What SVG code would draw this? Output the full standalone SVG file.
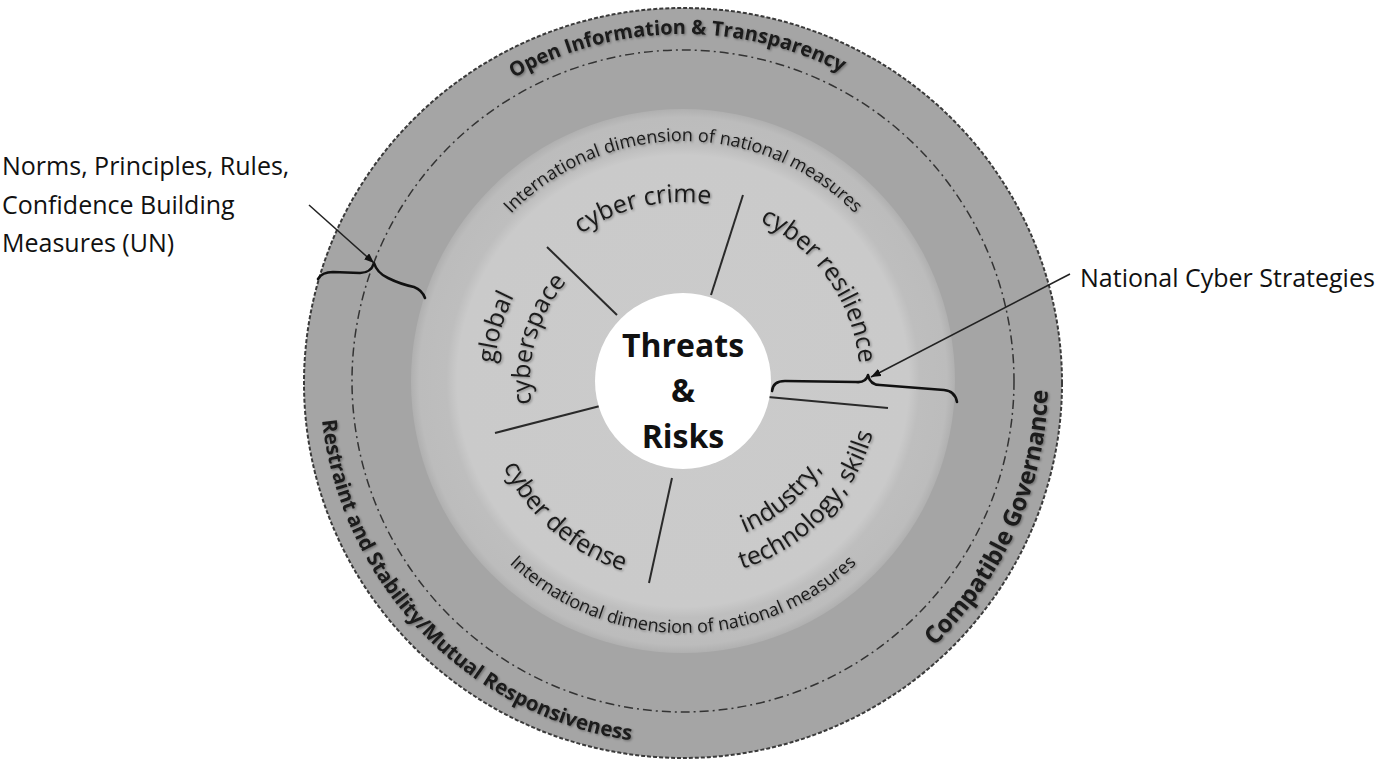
<svg xmlns="http://www.w3.org/2000/svg" width="1382" height="761" viewBox="0 0 1382 761">
<style>
  text { font-family: "Open Sans", "Liberation Sans", sans-serif; fill: #1a1a1a; }
  .b { font-weight: 700; }
  .ring { font-size: 20px; }
  .ring2 { font-size: 20.5px; }
  .gov { font-size: 24px; }
  .intl { font-size: 18px; }
  .sec { font-size: 25px; }
  .ext { font-size: 25px; fill: #111; }
  .core { font-size: 32px; font-weight: 700; fill: #111; }
  .sh { filter: url(#sh); }
  .div { stroke: #2a2a2a; stroke-width: 2; fill: none; }
  .brace { stroke: #111; stroke-width: 2.6; fill: none; stroke-linecap: round; stroke-linejoin: round; }
  .arrow { stroke: #222; stroke-width: 1.5; fill: none; marker-end: url(#ah); }
</style>
<defs>
  <radialGradient id="gInner" gradientUnits="userSpaceOnUse" cx="683" cy="381" r="272">
    <stop offset="0" stop-color="#cbcbcb"/>
    <stop offset="0.83" stop-color="#cacaca"/>
    <stop offset="0.87" stop-color="#bebebe"/>
    <stop offset="0.97" stop-color="#bcbcbc"/>
    <stop offset="1" stop-color="#b0b0b0"/>
  </radialGradient>
  <filter id="sh" x="-10%" y="-10%" width="120%" height="120%">
    <feDropShadow dx="1.2" dy="1.2" stdDeviation="1" flood-color="#000" flood-opacity="0.35"/>
  </filter>
  <marker id="ah" viewBox="0 0 10 8" refX="10" refY="4" markerWidth="10" markerHeight="8" markerUnits="userSpaceOnUse" orient="auto">
    <path d="M0,0 L10,4 L0,8 z" fill="#111"/>
  </marker>
  <path id="pOpen" d="M 340.27 326.72 A 347 347 0 0 1 1023.63 314.79"/>
  <path id="pIntlTop" d="M 446.65 339.32 A 240 240 0 0 1 919.35 339.32"/>
  <path id="pIntlBot" d="M 434.83 424.76 A 252 252 0 0 0 931.17 424.76"/>
  <path id="pRestraint" d="M 389.33 167.63 A 363 363 0 0 0 885.99 681.94"/>
  <path id="pGov" d="M 594.70 735.16 A 365 365 0 0 0 887.10 78.40"/>
  <path id="pCrime" d="M 504.25 390.37 A 179 179 0 0 1 847.77 311.06"/>
  <path id="pResil" d="M 608.20 220.58 A 177 177 0 0 1 808.16 506.16"/>
  <path id="pGlobal" d="M 600.15 550.87 A 189 189 0 0 1 702.76 193.04"/>
  <path id="pCyberspace" d="M 615.93 518.52 A 153 153 0 0 1 698.99 228.84"/>
  <path id="pDefense" d="M 512.42 278.51 A 199 199 0 0 0 808.23 535.65"/>
  <path id="pIndustry" d="M 577.58 506.63 A 164 164 0 0 0 825.03 299"/>
  <path id="pTech" d="M 572.84 544.32 A 197 197 0 0 0 842.38 265.21"/>
</defs>

<rect x="0" y="0" width="1382" height="761" fill="#ffffff"/>

<g id="outer-ring">
  <ellipse cx="683" cy="383" rx="379" ry="375" fill="#a5a5a5" stroke="#3a3a3a" stroke-width="2" stroke-dasharray="4 2"/>
  <circle cx="683" cy="381" r="331" fill="none" stroke="#333" stroke-width="1.5" stroke-dasharray="9 4 2 4"/>
  <text class="ring b sh"><textPath href="#pOpen" startOffset="50%" text-anchor="middle">Open Information &amp; Transparency</textPath></text>
  <text class="ring2 b sh"><textPath href="#pRestraint" startOffset="50%" text-anchor="middle">Restraint and Stability/Mutual Responsiveness</textPath></text>
  <text class="gov b sh"><textPath href="#pGov" startOffset="50%" text-anchor="middle">Compatible Governance</textPath></text>
</g>

<g id="international-ring">
  <circle cx="683" cy="381" r="272" fill="url(#gInner)"/>
  <text class="intl sh"><textPath href="#pIntlTop" startOffset="50%" text-anchor="middle">International dimension of national measures</textPath></text>
  <text class="intl sh"><textPath href="#pIntlBot" startOffset="50%" text-anchor="middle">International dimension of national measures</textPath></text>
</g>

<g id="sector-labels">
  <text class="sec sh"><textPath href="#pCrime" startOffset="50%" text-anchor="middle">cyber crime</textPath></text>
  <text class="sec sh"><textPath href="#pResil" startOffset="50%" text-anchor="middle">cyber resilience</textPath></text>
  <text class="sec sh"><textPath href="#pGlobal" startOffset="50%" text-anchor="middle">global</textPath></text>
  <text class="sec sh"><textPath href="#pCyberspace" startOffset="50%" text-anchor="middle">cyberspace</textPath></text>
  <text class="sec sh"><textPath href="#pDefense" startOffset="50%" text-anchor="middle">cyber defense</textPath></text>
  <text class="sec sh"><textPath href="#pIndustry" startOffset="50%" text-anchor="middle">industry,</textPath></text>
  <text class="sec sh"><textPath href="#pTech" startOffset="50%" text-anchor="middle">technology, skills</textPath></text>
</g>

<g id="connectors">
  <line class="div" x1="547" y1="247" x2="617" y2="315"/>
  <line class="div" x1="743" y1="195" x2="711" y2="295"/>
  <line class="div" x1="768" y1="397" x2="888" y2="408"/>
  <line class="div" x1="672" y1="478" x2="649" y2="583"/>
  <line class="div" x1="600" y1="406" x2="495" y2="433"/>
  <path class="brace" d="M 318 279 Q 322 272 333 272 L 360 273 Q 371 273 374 263 Q 377 273 388 278 Q 400 284 414 287 Q 422 290 425 298"/>
  <path class="brace" d="M 772 391 Q 773 381 785 381 L 856 382 Q 866 383 868 375 Q 870 385 880 385 L 944 390 Q 955 391 957 402"/>
  <line class="arrow" x1="309" y1="205" x2="374" y2="263"/>
  <line class="arrow" x1="1070" y1="274" x2="871" y2="377"/>
</g>

<g id="core">
  <circle cx="683" cy="381" r="88" fill="#ffffff"/>
  <text class="core" x="683" y="357" text-anchor="middle">Threats</text>
  <text class="core" x="683" y="402" text-anchor="middle">&amp;</text>
  <text class="core" x="683" y="448" text-anchor="middle">Risks</text>
</g>

<g id="label-norms">
  <text class="ext" x="2" y="175">Norms, Principles, Rules,</text>
  <text class="ext" x="2" y="214">Confidence Building</text>
  <text class="ext" x="2" y="252">Measures (UN)</text>
</g>

<g id="label-national">
  <text class="ext" x="1080" y="287">National Cyber Strategies</text>
</g>
</svg>
